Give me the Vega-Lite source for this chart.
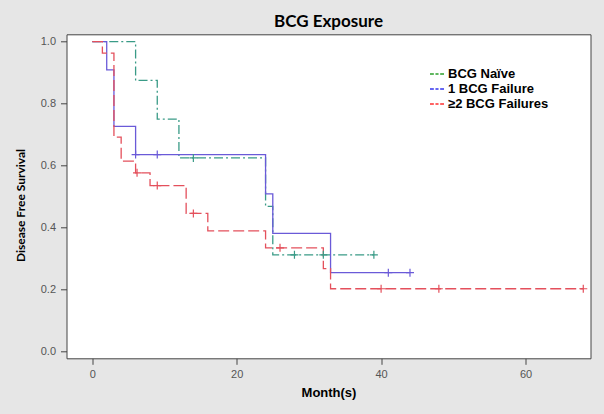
{
  "$schema": "https://vega.github.io/schema/vega-lite/v6.json",
  "autosize": "none",
  "width": 524,
  "height": 324,
  "padding": {"left": 66.5, "top": 34.3, "right": 13.5, "bottom": 55.7},
  "background": "#e6e6e6",
  "title": {"text": "BCG Exposure", "font": "Lato", "fontSize": 17, "fontWeight": "bold", "color": "#000000", "anchor": "middle", "offset": 3},
  "config": {
    "view": {"stroke": "#444444", "strokeWidth": 1, "fill": "#ffffff"},
    "axis": {"domain": false, "grid": false, "tickSize": 6, "tickColor": "#444444", "labelColor": "#555555", "labelFont": "Liberation Sans", "labelFontSize": 11, "titleColor": "#000000", "titleFontWeight": "bold"}
  },
  "datasets": {
    "curves": [
      {"group": "BCG Naïve", "t": 0, "s": 1},
      {"group": "BCG Naïve", "t": 6, "s": 0.875},
      {"group": "BCG Naïve", "t": 9, "s": 0.75},
      {"group": "BCG Naïve", "t": 12, "s": 0.625},
      {"group": "BCG Naïve", "t": 24, "s": 0.469},
      {"group": "BCG Naïve", "t": 25, "s": 0.3125},
      {"group": "BCG Naïve", "t": 39, "s": 0.3125},
      {"group": "1 BCG Failure", "t": 0, "s": 1},
      {"group": "1 BCG Failure", "t": 2, "s": 0.909},
      {"group": "1 BCG Failure", "t": 3, "s": 0.727},
      {"group": "1 BCG Failure", "t": 6, "s": 0.636},
      {"group": "1 BCG Failure", "t": 24, "s": 0.509},
      {"group": "1 BCG Failure", "t": 25, "s": 0.382},
      {"group": "1 BCG Failure", "t": 33, "s": 0.255},
      {"group": "1 BCG Failure", "t": 44, "s": 0.255},
      {"group": "≥2 BCG Failures", "t": 0, "s": 1},
      {"group": "≥2 BCG Failures", "t": 1.4, "s": 0.963},
      {"group": "≥2 BCG Failures", "t": 3, "s": 0.692},
      {"group": "≥2 BCG Failures", "t": 4, "s": 0.615},
      {"group": "≥2 BCG Failures", "t": 6, "s": 0.577},
      {"group": "≥2 BCG Failures", "t": 8, "s": 0.536},
      {"group": "≥2 BCG Failures", "t": 13, "s": 0.446},
      {"group": "≥2 BCG Failures", "t": 16, "s": 0.39},
      {"group": "≥2 BCG Failures", "t": 24, "s": 0.335},
      {"group": "≥2 BCG Failures", "t": 32, "s": 0.268},
      {"group": "≥2 BCG Failures", "t": 33, "s": 0.203},
      {"group": "≥2 BCG Failures", "t": 68, "s": 0.203}
    ],
    "censors": [
      {"group": "BCG Naïve", "t": 14, "s": 0.625},
      {"group": "BCG Naïve", "t": 28, "s": 0.3125},
      {"group": "BCG Naïve", "t": 32, "s": 0.3125},
      {"group": "BCG Naïve", "t": 39, "s": 0.3125},
      {"group": "1 BCG Failure", "t": 6, "s": 0.636},
      {"group": "1 BCG Failure", "t": 9, "s": 0.636},
      {"group": "1 BCG Failure", "t": 41, "s": 0.255},
      {"group": "1 BCG Failure", "t": 44, "s": 0.255},
      {"group": "≥2 BCG Failures", "t": 6.2, "s": 0.577},
      {"group": "≥2 BCG Failures", "t": 9, "s": 0.536},
      {"group": "≥2 BCG Failures", "t": 14, "s": 0.446},
      {"group": "≥2 BCG Failures", "t": 26, "s": 0.335},
      {"group": "≥2 BCG Failures", "t": 40, "s": 0.203},
      {"group": "≥2 BCG Failures", "t": 48, "s": 0.203},
      {"group": "≥2 BCG Failures", "t": 68, "s": 0.203}
    ],
    "legendrows": [
      {"label": "BCG Naïve", "t": 0, "s": 1},
      {"label": "1 BCG Failure", "t": 0, "s": 1},
      {"label": "≥2 BCG Failures", "t": 0, "s": 1}
    ]
  },
  "encoding": {
    "x": {
      "field": "t", "type": "quantitative",
      "scale": {"domain": [-3.57, 69.0], "nice": false, "zero": false},
      "axis": {"values": [0, 20, 40, 60], "labelPadding": 4, "title": "Month(s)", "titleFont": "Liberation Sans", "titleFontSize": 13, "titlePadding": 7}
    },
    "y": {
      "field": "s", "type": "quantitative",
      "scale": {"domain": [-0.0213, 1.0239], "nice": false, "zero": false},
      "axis": {"values": [0, 0.2, 0.4, 0.6, 0.8, 1.0], "format": ".1f", "labelPadding": 5, "title": "Disease Free Survival", "titleFont": "Lato", "titleFontSize": 12, "titleBaseline": "middle", "titleX": -45.8, "titleY": 170.7}
    }
  },
  "layer": [
    {
      "data": {"name": "curves"},
      "mark": {"type": "line", "interpolate": "step-after", "strokeWidth": 1.3},
      "encoding": {
        "stroke": {"field": "group", "type": "nominal", "scale": {"domain": ["BCG Naïve", "1 BCG Failure", "≥2 BCG Failures"], "range": ["#3a9b87", "#6a5ad8", "#e4505c"]}, "legend": null},
        "strokeDash": {"field": "group", "type": "nominal", "scale": {"domain": ["BCG Naïve", "1 BCG Failure", "≥2 BCG Failures"], "range": [[9, 3, 2, 3], [1, 0], [11, 4]]}, "legend": null}
      }
    },
    {
      "data": {"name": "censors"},
      "mark": {"type": "point", "shape": "M-1,0H1M0,-1V1", "size": 64, "filled": false, "strokeWidth": 1.2, "opacity": 1},
      "encoding": {
        "stroke": {"field": "group", "type": "nominal", "legend": null}
      }
    },
    {
      "data": {"name": "legendrows"},
      "mark": {"type": "point", "filled": true, "opacity": 0},
      "encoding": {
        "fill": {"field": "label", "type": "nominal",
          "scale": {"domain": ["BCG Naïve", "1 BCG Failure", "≥2 BCG Failures"], "range": ["#2ca02c", "#3434ee", "#ff3030"]},
          "legend": {"orient": "none", "legendX": 363.5, "legendY": 32.7, "title": null, "padding": 0,
            "symbolType": "M-1,-0.12H-0.45V0.12H-1Z M-0.22,-0.12H0.22V0.12H-0.22Z M0.45,-0.12H1V0.12H0.45Z",
            "symbolSize": 196, "symbolOpacity": 1, "symbolStrokeWidth": 0,
            "labelFont": "Liberation Sans", "labelFontSize": 13, "labelFontWeight": "bold", "labelColor": "#000000", "labelOffset": 4, "rowPadding": 1}
        }
      }
    }
  ],
  "resolve": {"scale": {"fill": "independent"}, "legend": {"fill": "independent"}}
}
